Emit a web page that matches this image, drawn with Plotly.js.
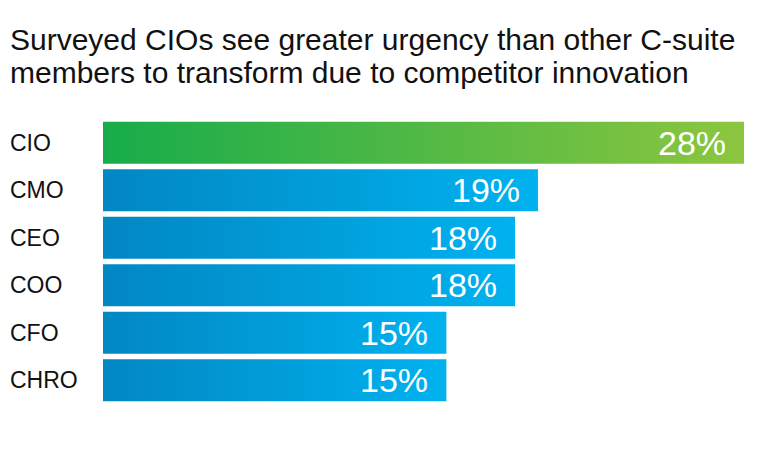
<!DOCTYPE html>
<html>
<head>
<meta charset="utf-8">
<script src="https://cdn.plot.ly/plotly-3.0.1.min.js"></script>
<style>html,body{margin:0;padding:0;background:#fff;}#chart{width:768px;height:449px;}</style>
</head>
<body>
<div id="chart"></div>
<script>
const categories = ["CIO", "CMO", "CEO", "COO", "CFO", "CHRO"];
const values = [28, 19, 18, 18, 15, 15];
const labels = ["28%", "19%", "18%", "18%", "15%", "15%"];
const titleLines = ["Surveyed CIOs see greater urgency than other C-suite", "members to transform due to competitor innovation"];

const FONT = "Liberation Sans, Arial, Helvetica, sans-serif";

const trace = {
  type: "bar",
  orientation: "h",
  y: categories,
  x: values,
  marker: { color: categories.map((c, i) => i === 0 ? "#4db848" : "#00a0e0"), line: { width: 0 } },
  hoverinfo: "skip",
  width: 0.88
};

const annotations = [];
categories.forEach((c, i) => {
  annotations.push({
    x: values[i], y: c, xref: "x", yref: "y",
    text: labels[i], showarrow: false, xanchor: "right", xshift: -16, yshift: 0,
    font: { family: FONT, size: 34, color: "#ffffff" }
  });
  annotations.push({
    x: -0.148, y: c, xref: "paper", yref: "y",
    text: c, showarrow: false, xanchor: "left",
    font: { family: FONT, size: 23, color: "#111111" }
  });
});

const layout = {
  width: 768, height: 449,
  paper_bgcolor: "#ffffff", plot_bgcolor: "#ffffff",
  margin: { l: 103, r: 24, t: 119, b: 45 },
  title: {
    text: titleLines.map(l => '<span style="font-size:30px">' + l + '</span>').join("<br>"),
    x: 10 / 768, xref: "container", xanchor: "left",
    y: 1 - 50 / 449, yref: "container", yanchor: "top",
    font: { family: FONT, size: 25, color: "#111111" }
  },
  xaxis: { range: [0, 28], visible: false, fixedrange: true },
  yaxis: { categoryorder: "array", categoryarray: categories, autorange: "reversed",
           showticklabels: false, showgrid: false, zeroline: false, showline: false, ticks: "" },
  showlegend: false,
  annotations: annotations
};

Plotly.newPlot("chart", [trace], layout, { staticPlot: true, displayModeBar: false }).then(gd => {
  const svgNS = "http://www.w3.org/2000/svg";
  const svg = gd.querySelector("svg.main-svg");
  let defs = svg.querySelector("defs");
  if (!defs) { defs = document.createElementNS(svgNS, "defs"); svg.insertBefore(defs, svg.firstChild); }
  function grad(id, c1, c2) {
    const g = document.createElementNS(svgNS, "linearGradient");
    g.setAttribute("id", id);
    g.setAttribute("x1", "0"); g.setAttribute("y1", "0");
    g.setAttribute("x2", "1"); g.setAttribute("y2", "0");
    [[0, c1], [1, c2]].forEach(([o, c]) => {
      const s = document.createElementNS(svgNS, "stop");
      s.setAttribute("offset", o); s.setAttribute("stop-color", c);
      g.appendChild(s);
    });
    defs.appendChild(g);
  }
  grad("gGreen", "#17ac4b", "#8dc63f");
  grad("gBlue", "#0287c3", "#00b2ef");
  const paths = gd.querySelectorAll(".barlayer .point path");
  paths.forEach((p, i) => {
    p.style.fill = i === 0 ? "url(#gGreen)" : "url(#gBlue)";
  });
});
</script>
</body>
</html>
